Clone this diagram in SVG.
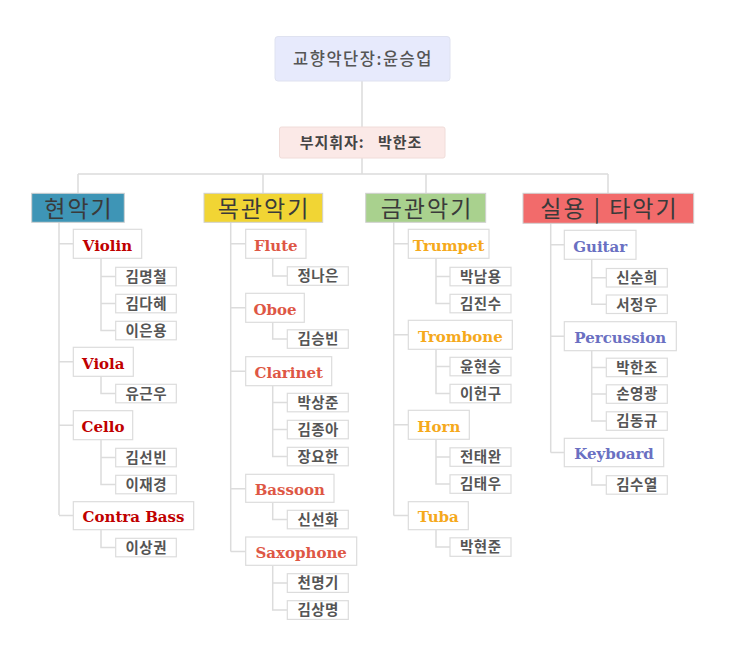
<svg xmlns="http://www.w3.org/2000/svg" width="739" height="651" viewBox="0 0 739 651">
<style>
.ln{fill:none;stroke:#dcdcdc;stroke-width:1.5}
.bx{fill:#fff;stroke:#dcdcdc;stroke-width:1.2}
.cat{stroke:#d0d0d0;stroke-width:1}
.ct{font-family:"Noto Sans CJK KR","Noto Sans",sans-serif;font-size:23px;fill:#3a3a3a;text-anchor:middle;letter-spacing:2px}
.it{font-family:"DejaVu Serif",serif;font-weight:bold;font-size:15px;text-anchor:middle}
.nm{font-family:"Noto Sans CJK KR","Noto Sans",sans-serif;font-weight:bold;font-size:14.5px;fill:#555;text-anchor:middle;letter-spacing:0.5px}
.s{fill:#c00000}.w{fill:#de5745}.b{fill:#f5a91c}.p{fill:#6a70c2}
</style>
<rect width="739" height="651" fill="#fff"/>
<g id="connectors">
<path class="ln" d="M362 81V158M362 158V174M78 174H608M78 174V193M263 174V193M426 174V193M608 174V193"/>
<path class="ln" d="M59 222V515M59 243.8H73M59 361.8H73M59 425.2H73M59 515.5H73"/>
<path class="ln" d="M101 258V330.5H116M101 276.5H116M101 303.5H116"/>
<path class="ln" d="M101 376V393.5H116"/>
<path class="ln" d="M101 439.5V484.5H116M101 457.5H116"/>
<path class="ln" d="M101 530V547.5H116"/>
<path class="ln" d="M230.7 222V551.5M230.7 243.8H246M230.7 307.8H246M230.7 371.2H246M230.7 488.8H246M230.7 551.5H246"/>
<path class="ln" d="M272.7 258V276H287"/>
<path class="ln" d="M272.7 322V339H287"/>
<path class="ln" d="M272.7 385.5V456.5H287M272.7 402.5H287M272.7 429.5H287"/>
<path class="ln" d="M272.7 503V519.5H287"/>
<path class="ln" d="M272.7 566V610H287M272.7 583H287"/>
<path class="ln" d="M393.7 222V515.5M393.7 243.8H408M393.7 334.8H408M393.7 424.8H408M393.7 515.5H408"/>
<path class="ln" d="M436 258V303.5H450M436 276.5H450"/>
<path class="ln" d="M436 349V393.5H450M436 366.5H450"/>
<path class="ln" d="M436 439V484H450M436 457H450"/>
<path class="ln" d="M436 530V547H450"/>
<path class="ln" d="M550.7 223V452.5M550.7 244.8H564M550.7 336.2H564M550.7 452.5H564"/>
<path class="ln" d="M591.7 259V304.3H606M591.7 277.8H606"/>
<path class="ln" d="M591.7 350V421H606M591.7 367.5H606M591.7 394H606"/>
<path class="ln" d="M591.7 467V485H606"/>
</g>
<g id="root">
<rect x="275" y="36.5" width="175" height="44.5" rx="3" fill="#e7eafc" stroke="#dfe2f0" stroke-width="1"/>
<text x="363" y="65" font-family="'Noto Sans CJK KR','Noto Sans',sans-serif" font-size="16.5" font-weight="500" fill="#555" text-anchor="middle" letter-spacing="1.5">교향악단장:윤승업</text>
</g>
<g id="vice">
<rect x="279.5" y="127" width="165.5" height="31" rx="2" fill="#fbe9e7" stroke="#f0dcd9" stroke-width="1"/>
<text x="361" y="147.5" font-family="'Noto Sans CJK KR','Noto Sans',sans-serif" font-size="15" font-weight="bold" fill="#444" text-anchor="middle" letter-spacing="1" xml:space="preserve">부지휘자:   박한조</text>
</g>
<g id="cat-strings"><rect class="cat" x="31.7" y="193.3" width="92.6" height="29" fill="#3e95b6"/><text class="ct" x="79" y="216.5">현악기</text></g>
<g id="cat-woodwind"><rect class="cat" x="204" y="193.3" width="118.7" height="29" fill="#f1d534"/><text class="ct" x="264" y="216.5">목관악기</text></g>
<g id="cat-brass"><rect class="cat" x="365.7" y="193.3" width="120" height="29" fill="#a9d18e"/><text class="ct" x="427" y="216.5">금관악기</text></g>
<g id="cat-perc"><rect class="cat" x="523" y="193.3" width="170.7" height="30" fill="#f26b6b"/><text class="ct" x="609.5" y="217">실용 | 타악기</text></g>

<g id="violin"><rect class="bx" x="73.3" y="229.3" width="68.4" height="29"/><text class="it s" x="107.5" y="250.5">Violin</text></g>
<g id="n1"><rect class="bx" x="115.7" y="267.3" width="60.6" height="18.5"/><text class="nm" x="146.3" y="281.8">김명철</text></g>
<g id="n2"><rect class="bx" x="115.7" y="294.3" width="60.6" height="18.5"/><text class="nm" x="146.3" y="308.8">김다혜</text></g>
<g id="n3"><rect class="bx" x="115.7" y="321.3" width="60.6" height="18.5"/><text class="nm" x="146.3" y="335.8">이은용</text></g>
<g id="viola"><rect class="bx" x="73.3" y="347.3" width="60" height="29"/><text class="it s" x="103.3" y="368.5">Viola</text></g>
<g id="n4"><rect class="bx" x="115.7" y="384.3" width="60.6" height="18.5"/><text class="nm" x="146.3" y="398.8">유근우</text></g>
<g id="cello"><rect class="bx" x="73.3" y="410.7" width="59.4" height="29"/><text class="it s" x="103" y="431.9">Cello</text></g>
<g id="n5"><rect class="bx" x="115.7" y="448.3" width="60.6" height="18.5"/><text class="nm" x="146.3" y="462.8">김선빈</text></g>
<g id="n6"><rect class="bx" x="115.7" y="475.3" width="60.6" height="18.5"/><text class="nm" x="146.3" y="489.8">이재경</text></g>
<g id="contrabass"><rect class="bx" x="73.3" y="501.7" width="120.4" height="28"/><text class="it s" x="133.5" y="522.3">Contra Bass</text></g>
<g id="n7"><rect class="bx" x="115.7" y="538.3" width="60.6" height="18.5"/><text class="nm" x="146.3" y="552.8">이상권</text></g>

<g id="flute"><rect class="bx" x="245.7" y="229.3" width="60.3" height="29"/><text class="it w" x="275.8" y="250.5">Flute</text></g>
<g id="n8"><rect class="bx" x="287.3" y="266.8" width="61" height="18.5"/><text class="nm" x="318.2" y="281.3">정나은</text></g>
<g id="oboe"><rect class="bx" x="245.7" y="293.3" width="58.6" height="29"/><text class="it w" x="275" y="314.5">Oboe</text></g>
<g id="n9"><rect class="bx" x="287.3" y="329.8" width="61" height="18.5"/><text class="nm" x="318.2" y="344.3">김승빈</text></g>
<g id="clarinet"><rect class="bx" x="245.7" y="356.7" width="86" height="29"/><text class="it w" x="288.7" y="377.9">Clarinet</text></g>
<g id="n10"><rect class="bx" x="287.3" y="393.3" width="61" height="18.5"/><text class="nm" x="318.2" y="407.8">박상준</text></g>
<g id="n11"><rect class="bx" x="287.3" y="420.3" width="61" height="18.5"/><text class="nm" x="318.2" y="434.8">김종아</text></g>
<g id="n12"><rect class="bx" x="287.3" y="447.3" width="61" height="18.5"/><text class="nm" x="318.2" y="461.8">장요한</text></g>
<g id="bassoon"><rect class="bx" x="245.7" y="474.3" width="88.3" height="28"/><text class="it w" x="289.8" y="495">Bassoon</text></g>
<g id="n13"><rect class="bx" x="287.3" y="510.3" width="61" height="18.5"/><text class="nm" x="318.2" y="524.8">신선화</text></g>
<g id="saxophone"><rect class="bx" x="245.7" y="537" width="111" height="28.3"/><text class="it w" x="301.2" y="558">Saxophone</text></g>
<g id="n14"><rect class="bx" x="287.3" y="573.7" width="61" height="18.7"/><text class="nm" x="318.2" y="588.3">천명기</text></g>
<g id="n15"><rect class="bx" x="287.3" y="600.7" width="61" height="18.7"/><text class="nm" x="318.2" y="615.3">김상명</text></g>

<g id="trumpet"><rect class="bx" x="408.3" y="229.3" width="80.7" height="29"/><text class="it b" x="448.7" y="250.5">Trumpet</text></g>
<g id="n16"><rect class="bx" x="450" y="267.3" width="61" height="18.5"/><text class="nm" x="480.8" y="281.8">박남용</text></g>
<g id="n17"><rect class="bx" x="450" y="294.3" width="61" height="18.5"/><text class="nm" x="480.8" y="308.8">김진수</text></g>
<g id="trombone"><rect class="bx" x="408.3" y="320.3" width="104" height="29"/><text class="it b" x="460.3" y="341.5">Trombone</text></g>
<g id="n18"><rect class="bx" x="450" y="357.3" width="61" height="18.5"/><text class="nm" x="480.8" y="371.8">윤현승</text></g>
<g id="n19"><rect class="bx" x="450" y="384.3" width="61" height="18.5"/><text class="nm" x="480.8" y="398.8">이헌구</text></g>
<g id="horn"><rect class="bx" x="408.3" y="410.3" width="61" height="29"/><text class="it b" x="438.8" y="431.5">Horn</text></g>
<g id="n20"><rect class="bx" x="450" y="447.8" width="61" height="18.5"/><text class="nm" x="480.8" y="462.3">전태완</text></g>
<g id="n21"><rect class="bx" x="450" y="474.8" width="61" height="18.5"/><text class="nm" x="480.8" y="489.3">김태우</text></g>
<g id="tuba"><rect class="bx" x="408.3" y="501.7" width="60" height="28"/><text class="it b" x="438.3" y="522.3">Tuba</text></g>
<g id="n22"><rect class="bx" x="450" y="537.8" width="61" height="18.5"/><text class="nm" x="480.8" y="552.3">박현준</text></g>

<g id="guitar"><rect class="bx" x="564.3" y="230.3" width="71.7" height="29"/><text class="it p" x="600.2" y="251.5">Guitar</text></g>
<g id="n23"><rect class="bx" x="606.3" y="268.5" width="61" height="18.5"/><text class="nm" x="637" y="283">신순희</text></g>
<g id="n24"><rect class="bx" x="606.3" y="295" width="61" height="18.5"/><text class="nm" x="637" y="309.5">서정우</text></g>
<g id="percussion"><rect class="bx" x="564.3" y="321.7" width="112" height="29"/><text class="it p" x="620.3" y="342.9">Percussion</text></g>
<g id="n25"><rect class="bx" x="606.3" y="358.2" width="61" height="18.5"/><text class="nm" x="637" y="372.7">박한조</text></g>
<g id="n26"><rect class="bx" x="606.3" y="384.8" width="61" height="18.5"/><text class="nm" x="637" y="399.3">손영광</text></g>
<g id="n27"><rect class="bx" x="606.3" y="411.8" width="61" height="18.5"/><text class="nm" x="637" y="426.3">김동규</text></g>
<g id="keyboard"><rect class="bx" x="564.3" y="438.3" width="99.4" height="28.4"/><text class="it p" x="614" y="459.2">Keyboard</text></g>
<g id="n28"><rect class="bx" x="606.3" y="475.7" width="61" height="18.5"/><text class="nm" x="637" y="490.3">김수열</text></g>
</svg>
